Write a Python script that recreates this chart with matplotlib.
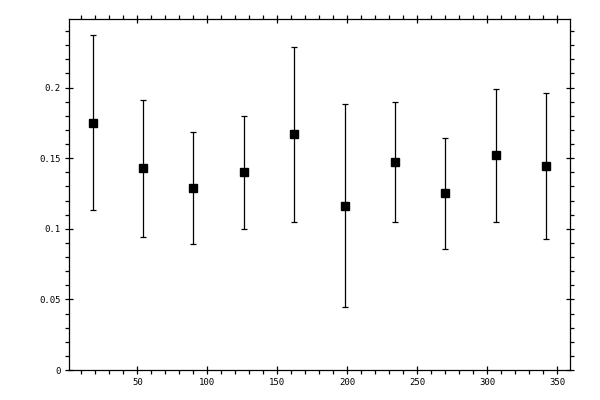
import matplotlib
matplotlib.use("Agg")
import matplotlib.pyplot as plt
import numpy as np
from matplotlib.ticker import MultipleLocator

# bin centres (degrees) and measured values
angle = [18, 54, 90, 126, 162, 198, 234, 270, 306, 342]
value = [0.175, 0.143, 0.129, 0.140, 0.167, 0.116, 0.147, 0.125, 0.152, 0.1445]
upper = [0.237, 0.191, 0.1686, 0.180, 0.229, 0.188, 0.190, 0.164, 0.199, 0.196]
lower = [0.113, 0.094, 0.089, 0.100, 0.105, 0.0445, 0.105, 0.086, 0.105, 0.093]


def main():
    v = np.array(value)
    yerr = [v - np.array(lower), np.array(upper) - v]

    fig = plt.figure(figsize=(6, 4), dpi=100)
    ax = fig.add_axes([0.115, 0.075, 0.835, 0.8775])

    ax.errorbar(angle, value, yerr=yerr, fmt="s", color="black",
                markersize=6, elinewidth=0.9, capsize=2.3, capthick=0.9)

    ax.set_xlim(1.2, 359)
    ax.set_ylim(0, 0.2485)

    ax.xaxis.set_major_locator(MultipleLocator(50))
    ax.xaxis.set_minor_locator(MultipleLocator(10))
    ax.yaxis.set_major_locator(MultipleLocator(0.05))
    ax.yaxis.set_minor_locator(MultipleLocator(0.01))
    ax.set_yticks([0, 0.05, 0.1, 0.15, 0.2])
    ax.set_yticklabels(["0", "0.05", "0.1", "0.15", "0.2"])

    ax.tick_params(which="major", direction="inout", length=6, width=0.9,
                   top=True, right=True, labelsize=6.5, pad=3)
    ax.tick_params(which="minor", direction="out", length=3, width=0.9,
                   top=True, right=True)
    for lab in ax.get_xticklabels() + ax.get_yticklabels():
        lab.set_family("DejaVu Sans Mono")

    for sp in ax.spines.values():
        sp.set_linewidth(0.9)

    fig.savefig("out.png", dpi=100)


if __name__ == "__main__":
    main()
